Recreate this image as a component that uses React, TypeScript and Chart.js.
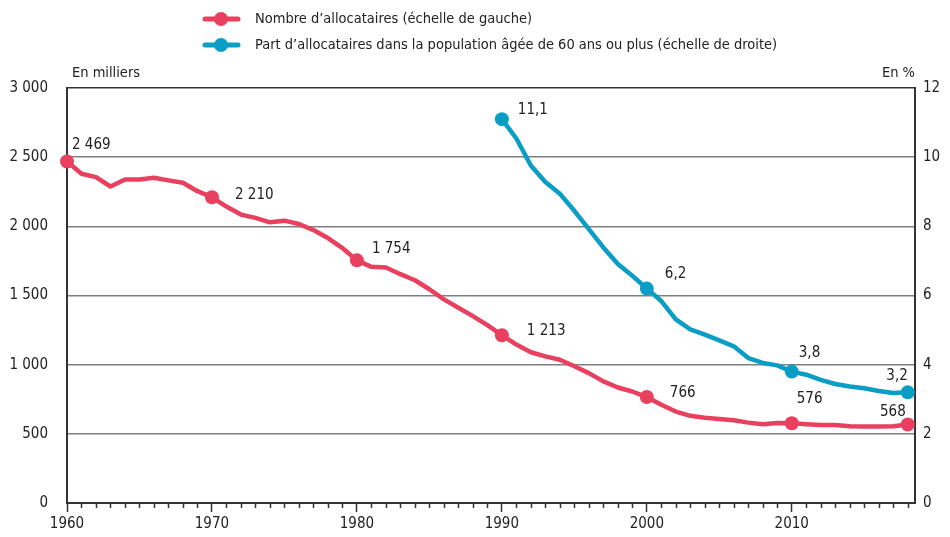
import React, { useEffect, useRef } from "react";
import { Chart, registerables } from "chart.js";

Chart.register(...registerables);

const FONT = "'Liberation Sans Narrow', 'DejaVu Sans Condensed', 'Liberation Sans', sans-serif";

const years = [
  1960, 1961, 1962, 1963, 1964, 1965, 1966, 1967, 1968, 1969,
  1970, 1971, 1972, 1973, 1974, 1975, 1976, 1977, 1978, 1979,
  1980, 1981, 1982, 1983, 1984, 1985, 1986, 1987, 1988, 1989,
  1990, 1991, 1992, 1993, 1994, 1995, 1996, 1997, 1998, 1999,
  2000, 2001, 2002, 2003, 2004, 2005, 2006, 2007, 2008, 2009,
  2010, 2011, 2012, 2013, 2014, 2015, 2016, 2017, 2018,
];

// Nombre d'allocataires (milliers)
const allocataires = [
  2469, 2380, 2356, 2288, 2339, 2339, 2351, 2332, 2315, 2254,
  2210, 2143, 2085, 2061, 2029, 2041, 2017, 1973, 1915, 1843,
  1754, 1707, 1702, 1654, 1610, 1545, 1472, 1411, 1351, 1286,
  1213, 1145, 1090, 1060, 1036, 988, 939, 879, 835, 806,
  766, 710, 661, 630, 617, 608, 598, 581, 569, 579,
  576, 570, 563, 563, 555, 553, 553, 555, 568,
];

const partYears = [
  1990, 1991, 1992, 1993, 1994, 1995, 1996, 1997, 1998, 1999,
  2000, 2001, 2002, 2003, 2004, 2005, 2006, 2007, 2008, 2009,
  2010, 2011, 2012, 2013, 2014, 2015, 2016, 2017, 2018,
];

// Part d'allocataires (%)
const partAllocataires = [
  11.1, 10.54, 9.76, 9.28, 8.94, 8.45, 7.92, 7.39, 6.91, 6.57,
  6.2, 5.84, 5.31, 5.02, 4.87, 4.7, 4.53, 4.19, 4.05, 3.98,
  3.8, 3.71, 3.56, 3.44, 3.37, 3.32, 3.24, 3.18, 3.2,
];

const markerYears = [1960, 1970, 1980, 1990, 2000, 2010, 2018];

const redLabelYears = [1960, 1970, 1980, 1990, 2000, 2010, 2018];
const redLabelTexts = ["2 469", "2 210", "1 754", "1 213", "766", "576", "568"];
const blueLabelYears = [1990, 2000, 2010, 2018];
const blueLabelTexts = ["11,1", "6,2", "3,8", "3,2"];

const legendLabels = [
  "Nombre d\u2019allocataires (\u00e9chelle de gauche)",
  "Part d\u2019allocataires dans la population \u00e2g\u00e9e de 60 ans ou plus (\u00e9chelle de droite)",
];
const leftTitle = "En milliers";
const rightTitle = "En %";

const RED = "#E8405E";
const BLUE = "#0A9DC5";
const TEXT = "#222222";
const AXIS = "#333333";
const GRID = "#7f7f7f";

const TICK_SIZE = 15;
const LEGEND_SIZE = 14.5;

// label offsets (px) relative to point: [dx, dy, align]
const redLabelOffsets: [number, number, CanvasTextAlign][] = [
  [5, -16, "left"],
  [23, -2, "left"],
  [15, -11, "left"],
  [25, -4, "left"],
  [23, -4, "left"],
  [5, -24, "left"],
  [-2, -12, "right"],
];
const blueLabelOffsets: [number, number, CanvasTextAlign][] = [
  [16, -9, "left"],
  [18, -14, "left"],
  [7, -18, "left"],
  [0, -16, "right"],
];

const fmtThousands = (v: number) =>
  String(v).replace(/\B(?=(\d{3})+(?!\d))/g, " ");

const overlayPlugin = {
  id: "overlay",
  afterDraw(chart: any) {
    const ctx = chart.ctx;
    const area = chart.chartArea;
    ctx.save();
    // minor x ticks
    const xs = chart.scales.x;
    ctx.strokeStyle = AXIS;
    ctx.lineWidth = 1.5;
    for (let yr = 1960; yr <= 2018; yr++) {
      if (yr % 10 === 0) continue;
      const px = Math.round(xs.getPixelForValue(yr)) + 0.5;
      ctx.beginPath();
      ctx.moveTo(px, area.bottom);
      ctx.lineTo(px, area.bottom + 5);
      ctx.stroke();
    }
    // axis titles
    ctx.fillStyle = TEXT;
    ctx.font = `${LEGEND_SIZE}px ${FONT}`;
    ctx.textBaseline = "middle";
    ctx.textAlign = "left";
    ctx.fillText(leftTitle, area.left + 5, area.top - 15);
    ctx.textAlign = "right";
    ctx.fillText(rightTitle, area.right, area.top - 15);

    // legend
    const legColors = [RED, BLUE];
    const legY = [19, 45];
    for (let i = 0; i < 2; i++) {
      ctx.strokeStyle = legColors[i];
      ctx.lineWidth = 5;
      ctx.lineCap = "round";
      ctx.beginPath();
      ctx.moveTo(205, legY[i]);
      ctx.lineTo(238, legY[i]);
      ctx.stroke();
      ctx.fillStyle = legColors[i];
      ctx.beginPath();
      ctx.arc(221, legY[i], 7, 0, Math.PI * 2);
      ctx.fill();
      ctx.fillStyle = TEXT;
      ctx.textAlign = "left";
      ctx.font = `${LEGEND_SIZE}px ${FONT}`;
      ctx.fillText(legendLabels[i], 255, legY[i]);
    }
    ctx.restore();
  },
  afterDatasetsDraw(chart: any) {
    const ctx = chart.ctx;
    ctx.save();
    ctx.fillStyle = TEXT;
    ctx.font = `${TICK_SIZE}px ${FONT}`;
    ctx.textBaseline = "middle";
    const m0 = chart.getDatasetMeta(0);
    redLabelYears.forEach((yr, i) => {
      const idx = years.indexOf(yr);
      const el = m0.data[idx];
      const [dx, dy, al] = redLabelOffsets[i];
      ctx.textAlign = al;
      ctx.fillText(redLabelTexts[i], el.x + dx, el.y + dy);
    });
    const m1 = chart.getDatasetMeta(1);
    blueLabelYears.forEach((yr, i) => {
      const idx = partYears.indexOf(yr);
      const el = m1.data[idx];
      const [dx, dy, al] = blueLabelOffsets[i];
      ctx.textAlign = al;
      ctx.fillText(blueLabelTexts[i], el.x + dx, el.y + dy);
    });
    ctx.restore();
  },
};

export default function App() {
  const ref = useRef<HTMLCanvasElement>(null);
  useEffect(() => {
    if (!ref.current) return;
    Chart.defaults.font.family = FONT;
    const chart = new Chart(ref.current, {
      type: "line",
      data: {
        datasets: [
          {
            label: legendLabels[0],
            data: years.map((y, i) => ({ x: y, y: allocataires[i] })),
            borderColor: RED,
            backgroundColor: RED,
            borderWidth: 4.5,
            borderJoinStyle: "round",
            borderCapStyle: "round",
            pointRadius: (c: any) => (markerYears.includes(years[c.dataIndex]) ? 7 : 0),
            pointHoverRadius: 0,
            pointBorderWidth: 0,
            pointBackgroundColor: RED,
            tension: 0,
            clip: false,
            yAxisID: "y",
          },
          {
            label: legendLabels[1],
            data: partYears.map((y, i) => ({ x: y, y: partAllocataires[i] })),
            borderColor: BLUE,
            backgroundColor: BLUE,
            borderWidth: 4.5,
            borderJoinStyle: "round",
            borderCapStyle: "round",
            pointRadius: (c: any) => (markerYears.includes(partYears[c.dataIndex]) ? 7 : 0),
            pointHoverRadius: 0,
            pointBorderWidth: 0,
            pointBackgroundColor: BLUE,
            tension: 0,
            clip: false,
            yAxisID: "y1",
          },
        ],
      },
      options: {
        animation: false,
        responsive: false,
        events: [],
        layout: { padding: { top: 88, left: 0, right: 0, bottom: 0 } },
        plugins: { legend: { display: false }, tooltip: { enabled: false } },
        scales: {
          x: {
            type: "linear",
            position: "bottom",
            min: 1960,
            max: 2018.5,
            afterFit: (s: any) => { s.height = 34; },
            border: { display: true, color: AXIS, width: 2 },
            grid: {
              drawOnChartArea: false,
              drawTicks: true,
              tickLength: 9,
              tickWidth: 1.5,
              tickColor: (c: any) => (c.tick && c.tick.value % 10 === 0 ? AXIS : "rgba(0,0,0,0)"),
            },
            ticks: {
              stepSize: 1,
              autoSkip: false,
              includeBounds: false,
              maxRotation: 0,
              padding: 3,
              color: TEXT,
              font: { size: TICK_SIZE, family: FONT },
              callback: (v: any) => (Number(v) % 10 === 0 ? String(v) : ""),
            },
          },
          y: {
            position: "left",
            min: 0,
            max: 3000,
            afterFit: (s: any) => { s.width = 67; },
            border: { display: true, color: AXIS, width: 2 },
            grid: {
              drawTicks: false,
              lineWidth: 1.5,
              color: (c: any) => (c.tick && c.tick.value === 3000 ? AXIS : GRID),
            },
            ticks: {
              stepSize: 500,
              padding: 19,
              color: TEXT,
              font: { size: TICK_SIZE, family: FONT },
              callback: (v: any) => fmtThousands(Number(v)),
            },
          },
          y1: {
            position: "right",
            min: 0,
            max: 12,
            afterFit: (s: any) => { s.width = 35; },
            border: { display: true, color: AXIS, width: 2 },
            grid: { drawOnChartArea: false, drawTicks: false },
            ticks: {
              stepSize: 2,
              padding: 8,
              color: TEXT,
              font: { size: TICK_SIZE, family: FONT },
            },
          },
        },
      },
      plugins: [overlayPlugin],
    } as any);
    return () => chart.destroy();
  }, []);
  return (
    <div style={{ position: "absolute", left: 0, top: 0, width: 950, height: 537, background: "#fff" }}>
      <canvas ref={ref} width={950} height={537} style={{ display: "block" }} />
    </div>
  );
}
